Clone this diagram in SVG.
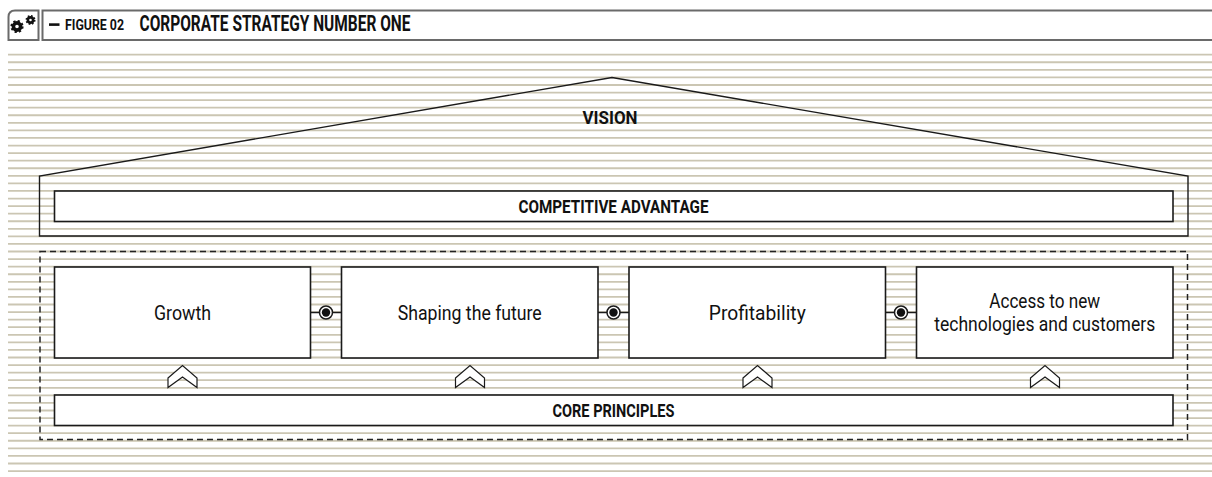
<svg xmlns="http://www.w3.org/2000/svg" width="1212" height="477" viewBox="0 0 1212 477">
<style>
.stripe{stroke:#cbc6b3;stroke-width:1.8;fill:none}
.box{fill:#fff;stroke:#1a1a1a;stroke-width:1.6}
.hdr{fill:#fff;stroke:#6a6a6a;stroke-width:2}
.lbl{font-family:Roboto,"Liberation Sans",sans-serif;font-weight:bold;font-size:18.5px;fill:#111;text-anchor:middle}
.txt{font-family:Roboto,"Liberation Sans",sans-serif;font-size:21px;fill:#111;text-anchor:middle}
.chev{fill:#fff;stroke:#1a1a1a;stroke-width:1.2;stroke-linejoin:miter}
.conn{stroke:#1a1a1a;stroke-width:1.5;fill:none}
</style>
<rect width="1212" height="477" fill="#fff"/>
<path class="stripe" d="M8 54.7H1212M8 62.27H1212M8 69.84H1212M8 77.41H1212M8 84.98H1212M8 92.55H1212M8 100.12H1212M8 107.69H1212M8 115.26H1212M8 122.83H1212M8 130.4H1212M8 137.97H1212M8 145.54H1212M8 153.11H1212M8 160.68H1212M8 168.25H1212M8 175.82H1212M8 183.39H1212M8 190.96H1212M8 198.53H1212M8 206.1H1212M8 213.67H1212M8 221.24H1212M8 228.81H1212M8 236.38H1212M8 243.95H1212M8 251.52H1212M8 259.09H1212M8 266.66H1212M8 274.23H1212M8 281.8H1212M8 289.37H1212M8 296.94H1212M8 304.51H1212M8 312.08H1212M8 319.65H1212M8 327.22H1212M8 334.79H1212M8 342.36H1212M8 349.93H1212M8 357.5H1212M8 365.07H1212M8 372.64H1212M8 380.21H1212M8 387.78H1212M8 395.35H1212M8 402.92H1212M8 410.49H1212M8 418.06H1212M8 425.63H1212M8 433.2H1212M8 440.77H1212M8 448.34H1212M8 455.91H1212M8 463.48H1212M8 471.05H1212"/>

<g id="header">
<path class="hdr" d="M38.5 40V10.5H15Q8.5 10.5 8.5 17V40Z"/>
<circle cx="17" cy="26.5" r="3.6" fill="none" stroke="#111" stroke-width="3.6"/>
<circle cx="17" cy="26.5" r="5.6" fill="none" stroke="#111" stroke-width="2" stroke-dasharray="2.2 2.2"/>
<circle cx="30.5" cy="20" r="2.6" fill="none" stroke="#111" stroke-width="2.6"/>
<circle cx="30.5" cy="20" r="4.2" fill="none" stroke="#111" stroke-width="1.6" stroke-dasharray="1.65 1.65"/>
<path class="hdr" d="M1214 10.5H42.5V40H1214"/>
<rect x="49" y="23.3" width="10.5" height="2.6" fill="#111"/>
<text x="65" y="29.5" font-family="Roboto,'Liberation Sans',sans-serif" font-weight="bold" font-size="14" fill="#111" textLength="59" lengthAdjust="spacingAndGlyphs">FIGURE 02</text>
<text x="139.5" y="31" font-family="Roboto,'Liberation Sans',sans-serif" font-weight="bold" font-size="22" fill="#111" textLength="271" lengthAdjust="spacingAndGlyphs">CORPORATE STRATEGY NUMBER ONE</text>
</g>

<g id="vision">
<path d="M39.5 236V176L612 77.5L1188 176V236Z" fill="none" stroke="#1a1a1a" stroke-width="1.4"/>
<text class="lbl" x="610" y="123.5" textLength="55" lengthAdjust="spacingAndGlyphs">VISION</text>
</g>

<g id="competitive-advantage">
<rect class="box" x="54.5" y="191" width="1118.5" height="30.5"/>
<text class="lbl" x="613.5" y="213" textLength="190" lengthAdjust="spacingAndGlyphs">COMPETITIVE ADVANTAGE</text>
</g>

<g id="pillars">
<rect x="40" y="251.5" width="1147.5" height="188" fill="none" stroke="#222" stroke-width="1.5" stroke-dasharray="6 4"/>
</g>

<g id="connectors">
<path class="conn" d="M310.5 312.5H341.5M598 312.5H629M885.5 312.5H916.5"/>
<g fill="#fff" stroke="#1a1a1a" stroke-width="1.5">
<circle cx="326" cy="312.5" r="6.5"/>
<circle cx="613.5" cy="312.5" r="6.5"/>
<circle cx="901" cy="312.5" r="6.5"/>
</g>
<g fill="#111">
<circle cx="326" cy="312.5" r="4.2"/>
<circle cx="613.5" cy="312.5" r="4.2"/>
<circle cx="901" cy="312.5" r="4.2"/>
</g>
<polygon class="chev" points="168,378 182.5,365.5 197,378 197,387.5 182.5,377 168,387.5"/>
<polygon class="chev" points="455.5,378 470,365.5 484.5,378 484.5,387.5 470,377 455.5,387.5"/>
<polygon class="chev" points="743,378 757.5,365.5 772,378 772,387.5 757.5,377 743,387.5"/>
<polygon class="chev" points="1030.5,378 1045,365.5 1059.5,378 1059.5,387.5 1045,377 1030.5,387.5"/>
</g>

<g id="growth">
<rect class="box" x="54.5" y="267" width="256" height="91"/>
<text class="txt" x="182.5" y="320" textLength="57" lengthAdjust="spacingAndGlyphs">Growth</text>
</g>
<g id="shaping-the-future">
<rect class="box" x="341.5" y="267" width="256.5" height="91"/>
<text class="txt" x="469.75" y="320" textLength="144" lengthAdjust="spacingAndGlyphs">Shaping the future</text>
</g>
<g id="profitability">
<rect class="box" x="629" y="267" width="256.5" height="91"/>
<text class="txt" x="757.25" y="320" textLength="97" lengthAdjust="spacingAndGlyphs">Profitability</text>
</g>
<g id="access">
<rect class="box" x="916.5" y="267" width="256.5" height="91"/>
<text class="txt" x="1044.75" y="307.5" textLength="111" lengthAdjust="spacingAndGlyphs">Access to new</text>
<text class="txt" x="1044.75" y="331" textLength="221" lengthAdjust="spacingAndGlyphs">technologies and customers</text>
</g>

<g id="core-principles">
<rect class="box" x="54.5" y="395" width="1118.5" height="30.5"/>
<text class="lbl" x="613.5" y="417" textLength="122" lengthAdjust="spacingAndGlyphs">CORE PRINCIPLES</text>
</g>
</svg>
